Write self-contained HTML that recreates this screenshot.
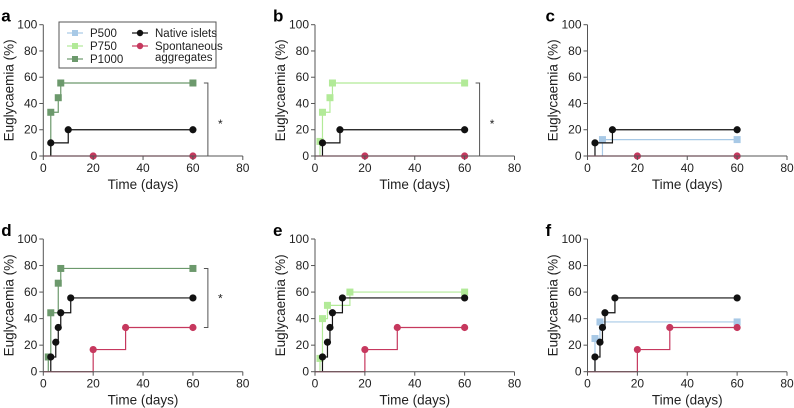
<!DOCTYPE html>
<html><head><meta charset="utf-8">
<style>
body{margin:0;background:#fff;}
svg{display:block;font-family:"Liberation Sans",Arial,sans-serif;}
</style></head>
<body>
<svg id="fig" width="794" height="408" viewBox="0 0 794 408" xmlns="http://www.w3.org/2000/svg"></svg>
<script>
const NS="http://www.w3.org/2000/svg";
const xTicks=[0,20,40,60,80];
const yTicks=[0,20,40,60,80,100];
const colors={P500:"#a8c9e6",P750:"#b2ea98",P1000:"#6c996c",native:"#111111",spont:"#c6385e"};
// panel a
const aP1000T=[3,6,7,60], aP1000V=[33.3,44.4,55.6,55.6];
const aNatT=[3,10,60], aNatV=[10,20,20];
const aSpT=[20,60], aSpV=[0,0];
// panel b
const bP750T=[2,3,6,7,60], bP750V=[11.1,33.3,44.4,55.6,55.6];
const bNatT=[3,10,60], bNatV=[10,20,20];
const bSpT=[20,60], bSpV=[0,0];
// panel c
const cP500T=[6,60], cP500V=[12.5,12.5];
const cNatT=[3,10,60], cNatV=[10,20,20];
const cSpT=[20,60], cSpV=[0,0];
// panel d
const dP1000T=[2,3,6,7,60], dP1000V=[11.1,44.4,66.7,77.8,77.8];
const dNatT=[3,5,6,7,11,60], dNatV=[11.1,22.2,33.3,44.4,55.6,55.6];
const dSpT=[20,33,60], dSpV=[16.7,33.3,33.3];
// panel e
const eP750T=[2,3,5,14,60], eP750V=[10,40,50,60,60];
const eNatT=[3,5,6,7,11,60], eNatV=[11.1,22.2,33.3,44.4,55.6,55.6];
const eSpT=[20,33,60], eSpV=[16.7,33.3,33.3];
// panel f
const fP500T=[3,5,60], fP500V=[25,37.5,37.5];
const fNatT=[3,5,6,7,11,60], fNatV=[11.1,22.2,33.3,44.4,55.6,55.6];
const fSpT=[20,33,60], fSpV=[16.7,33.3,33.3];

const panels=[
 {id:"a",x0:43.3,y0:156,top:24.7,series:[["P1000",aP1000T,aP1000V,"sq"],["native",aNatT,aNatV,"c"],["spont",aSpT,aSpV,"c"]],br:[55.6,0],star:25,legend:true},
 {id:"b",x0:315,y0:156,top:24.7,series:[["P750",bP750T,bP750V,"sq"],["native",bNatT,bNatV,"c"],["spont",bSpT,bSpV,"c"]],br:[55.6,0],star:25},
 {id:"c",x0:587.5,y0:156,top:24.7,series:[["P500",cP500T,cP500V,"sq"],["native",cNatT,cNatV,"c"],["spont",cSpT,cSpV,"c"]]},
 {id:"d",x0:43.3,y0:371.7,top:239,series:[["P1000",dP1000T,dP1000V,"sq"],["native",dNatT,dNatV,"c"],["spont",dSpT,dSpV,"c"]],br:[77.8,33.3],star:56},
 {id:"e",x0:315,y0:371.7,top:239,series:[["P750",eP750T,eP750V,"sq"],["native",eNatT,eNatV,"c"],["spont",eSpT,eSpV,"c"]]},
 {id:"f",x0:587.5,y0:371.7,top:239,series:[["P500",fP500T,fP500V,"sq"],["native",fNatT,fNatV,"c"],["spont",fSpT,fSpV,"c"]]}
];
const svg=document.getElementById("fig");
function mk(tag,attrs,parent){const e=document.createElementNS(NS,tag);for(const k in attrs)e.setAttribute(k,attrs[k]);(parent||svg).appendChild(e);return e;}
const W=199.5;
panels.forEach(p=>{
 const H=p.y0-p.top;
 const X=t=>p.x0+t/80*W, Y=v=>p.y0-v/100*H;
 const g=mk("g",{});
 
 
 const lab=mk("text",{x:p.x0-42,y:p.top-3,"font-size":17,"font-weight":"bold",fill:"#000"},g);lab.textContent=p.id;
 
 
 // series
 p.series.forEach(s=>{
  const [key,T,V,shape]=s;const col=colors[key];
  const sg=mk("g",{},g);
  
  
  let d="M"+X(key==="spont"?0:T[0])+" "+Y(0);
  let cur=0;
  T.forEach((t,i)=>{d+=" H"+X(t)+" V"+Y(V[i]);});
  mk("path",{d:d,fill:"none",stroke:col,"stroke-width":1.2},sg);
  T.forEach((t,i)=>{
   let m;
   if(shape==="sq")m=mk("rect",{x:X(t)-3.5,y:Y(V[i])-3.5,width:7,height:7,fill:col},sg);
   else m=mk("circle",{cx:X(t),cy:Y(V[i]),r:3.6,fill:col},sg);
   
   
  });
 });
 // axes
 const ax=mk("g",{stroke:"#555","stroke-width":1},g);
 
 
 mk("line",{x1:p.x0,y1:p.top,x2:p.x0,y2:p.y0},ax);
 mk("line",{x1:p.x0,y1:p.y0,x2:p.x0+W,y2:p.y0},ax);
 xTicks.forEach(t=>{mk("line",{x1:X(t),y1:p.y0,x2:X(t),y2:p.y0+4},ax);
  const tx=mk("text",{x:X(t),y:p.y0+16,"font-size":12,"text-anchor":"middle",fill:"#222"},g);tx.textContent=t;
  });
 yTicks.forEach(v=>{mk("line",{x1:p.x0-4,y1:Y(v),x2:p.x0,y2:Y(v)},ax);
  const tx=mk("text",{x:p.x0-6,y:Y(v)+4,"font-size":12,"text-anchor":"end",fill:"#222"},g);tx.textContent=v;
  });
 const xt=mk("text",{x:p.x0+W/2,y:p.y0+33,"font-size":13.5,"text-anchor":"middle",fill:"#222"},g);xt.textContent="Time (days)";
 
 const yc=(p.top+p.y0)/2, yx=p.x0-30;
 const yt=mk("text",{x:yx,y:yc,"font-size":13.5,"text-anchor":"middle",fill:"#222",transform:"rotate(-90 "+yx+" "+yc+")"},g);yt.textContent="Euglycaemia (%)";
 
 if(p.br){
  const bx=X(66),b=mk("path",{d:"M"+(bx-4)+" "+Y(p.br[0])+" H"+bx+" V"+Y(p.br[1])+" H"+(bx-4),fill:"none",stroke:"#555","stroke-width":1},g);
  
  const st=mk("text",{x:X(71),y:Y(p.star)+5,"font-size":12,"text-anchor":"middle",fill:"#222"},g);st.textContent="*";
  
 }
 if(p.legend){
  const lg=mk("g",{},g);
  
  mk("rect",{x:59,y:22,width:157,height:46,fill:"#fff",stroke:"#555","stroke-width":1},lg);
  const ents=[["P500",75,33,"sq","P500"],["P750",75,46,"sq","P750"],["P1000",75,59,"sq","P1000"],["native",140,33,"c","Native islets"],["spont",140,46,"c","Spontaneous"]];
  ents.forEach(e=>{
   const eg=mk("g",{},lg);
   
   mk("line",{x1:e[1]-8,y1:e[2],x2:e[1]+8,y2:e[2],stroke:colors[e[0]],"stroke-width":1.2},eg);
   if(e[3]==="sq")mk("rect",{x:e[1]-3,y:e[2]-3,width:6,height:6,fill:colors[e[0]]},eg);
   else mk("circle",{cx:e[1],cy:e[2],r:3.2,fill:colors[e[0]]},eg);
   const t=mk("text",{x:e[1]+15,y:e[2]+4,"font-size":11.5,fill:"#222"},eg);t.textContent=e[4];
  });
  const t2=mk("text",{x:155,y:61,"font-size":11.5,fill:"#222"},lg);t2.textContent="aggregates";
 }
});
</script>
</body></html>
